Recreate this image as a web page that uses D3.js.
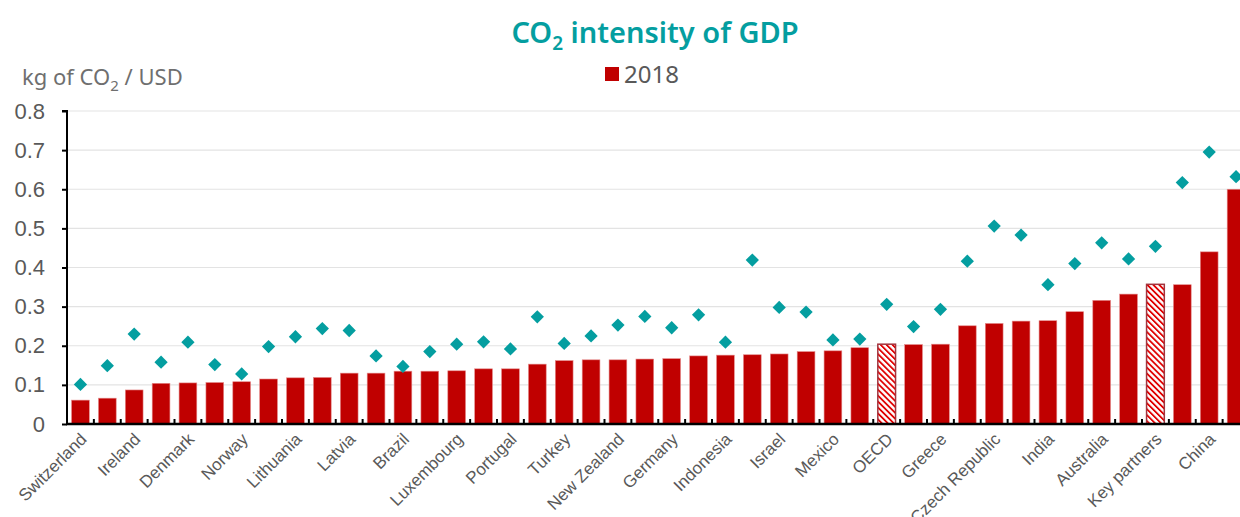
<!DOCTYPE html>
<html>
<head>
<meta charset="utf-8">
<script src="https://cdn.jsdelivr.net/npm/d3@7"></script>
<style>
  body { margin: 0; background: #fff; }
  svg { display: block; font-family: "Noto Sans", "Open Sans", sans-serif; }
</style>
</head>
<body>
<div id="chart"></div>
<script>
// only every other category is labelled in the source picture
const labels = [
  "Switzerland", "", "Ireland", "", "Denmark", "", "Norway", "", "Lithuania", "",
  "Latvia", "", "Brazil", "", "Luxembourg", "", "Portugal", "", "Turkey", "",
  "New Zealand", "", "Germany", "", "Indonesia", "", "Israel", "", "Mexico", "",
  "OECD", "", "Greece", "", "Czech Republic", "", "India", "", "Australia", "",
  "Key partners", "", "China", ""
];
// 2018 bars
const values2018 = [
  0.061, 0.066, 0.087, 0.104, 0.105, 0.106, 0.108, 0.115, 0.118, 0.119,
  0.130, 0.130, 0.135, 0.135, 0.136, 0.141, 0.141, 0.153, 0.162, 0.164,
  0.164, 0.166, 0.167, 0.174, 0.176, 0.177, 0.179, 0.185, 0.187, 0.195,
  0.204, 0.203, 0.204, 0.251, 0.257, 0.263, 0.264, 0.287, 0.316, 0.332,
  0.357, 0.356, 0.440, 0.600
];
// earlier-year diamonds
const valuesEarlier = [
  0.101, 0.149, 0.230, 0.158, 0.209, 0.152, 0.128, 0.198, 0.223, 0.244,
  0.239, 0.174, 0.147, 0.185, 0.204, 0.210, 0.192, 0.274, 0.206, 0.225,
  0.253, 0.275, 0.246, 0.279, 0.209, 0.419, 0.298, 0.286, 0.215, 0.217,
  0.306, 0.249, 0.293, 0.416, 0.506, 0.483, 0.356, 0.410, 0.463, 0.422,
  0.454, 0.617, 0.695, 0.632
];
const aggregates = ["OECD", "Key partners"];
const yTicks = [0, 0.1, 0.2, 0.3, 0.4, 0.5, 0.6, 0.7, 0.8];

const red = "#c00000";
const teal = "#049ea0";
const grey = "#595959";

const width = 1240;
const height = 517;
const marginLeft = 67;
const marginTop = 111;
const baseY = 424;

const idx = d3.range(values2018.length);

const x = d3.scaleBand()
  .domain(idx)
  .range([marginLeft, 1249.5])
  .paddingInner(0.34)
  .paddingOuter(0.17);

const y = d3.scaleLinear()
  .domain([0, 0.8])
  .range([baseY, marginTop]);

const svg = d3.select("#chart").append("svg")
  .attr("width", width)
  .attr("height", height);

const defs = svg.append("defs");
const pat = defs.append("pattern")
  .attr("id", "hatch")
  .attr("patternUnits", "userSpaceOnUse")
  .attr("width", 4.2)
  .attr("height", 4.2)
  .attr("patternTransform", "rotate(-45)");
pat.append("rect").attr("width", 4.2).attr("height", 4.2).attr("fill", "#fff");
pat.append("rect").attr("width", 1.8).attr("height", 4.2).attr("fill", "#e00000");

// gridlines
svg.append("g")
  .selectAll("line")
  .data(yTicks.slice(1))
  .join("line")
    .attr("x1", marginLeft)
    .attr("x2", width)
    .attr("y1", d => y(d))
    .attr("y2", d => y(d))
    .attr("stroke", "#e3e3e3")
    .attr("stroke-width", 1.2);

// bars
svg.append("g")
  .selectAll("rect")
  .data(idx)
  .join("rect")
    .attr("x", i => x(i))
    .attr("y", i => y(values2018[i]))
    .attr("width", x.bandwidth())
    .attr("height", i => y(0) - y(values2018[i]))
    .attr("fill", i => aggregates.includes(labels[i]) ? "url(#hatch)" : red)
    .attr("stroke", i => aggregates.includes(labels[i]) ? "#a3333d" : "#e48a8a")
    .attr("stroke-width", i => aggregates.includes(labels[i]) ? 1.5 : 0.6);

// diamonds
const diamond = d3.symbol().type(d3.symbolSquare).size(88);
svg.append("g")
  .selectAll("path")
  .data(idx)
  .join("path")
    .attr("d", diamond)
    .attr("transform", i => `translate(${x(i) + x.bandwidth() / 2},${y(valuesEarlier[i])}) rotate(45)`)
    .attr("fill", teal);

// y axis
const yAxis = svg.append("g")
  .attr("transform", `translate(${marginLeft},0)`)
  .call(d3.axisLeft(y).tickValues(yTicks).tickFormat(d => d === 0 ? "0" : d3.format(".1f")(d)).tickSize(5).tickPadding(17));
yAxis.select(".domain").attr("stroke", "#000").attr("stroke-width", 2).attr("d", `M-5,${marginTop}H0V${baseY}`);
yAxis.selectAll(".tick line").attr("stroke", "#000").attr("stroke-width", 2);
yAxis.selectAll(".tick text")
  .attr("fill", grey)
  .style("font-size", "22px");

// x axis: labels at centres, tick marks at band boundaries
const xAxis = svg.append("g")
  .attr("transform", `translate(0,${baseY})`)
  .call(d3.axisBottom(x).tickFormat(i => labels[i]).tickSize(0));
xAxis.select(".domain").remove();
xAxis.selectAll(".tick text")
  .attr("fill", grey)
  .style("font-size", "17px")
  .attr("text-anchor", "end")
  .attr("x", 0)
  .attr("y", 0)
  .attr("dy", "0.35em")
  .attr("transform", "translate(3,12) rotate(-45)");

const step = x.step();
svg.append("g")
  .selectAll("line")
  .data(idx.slice(1))
  .join("line")
    .attr("x1", i => x(i) - step * x.paddingInner() / 2)
    .attr("x2", i => x(i) - step * x.paddingInner() / 2)
    .attr("y1", baseY)
    .attr("y2", baseY - 5)
    .attr("stroke", "#000")
    .attr("stroke-width", 2);

svg.append("line")
  .attr("x1", marginLeft - 1)
  .attr("x2", width)
  .attr("y1", baseY)
  .attr("y2", baseY)
  .attr("stroke", "#000")
  .attr("stroke-width", 2.5);

// title
const title = svg.append("text")
  .attr("x", 655)
  .attr("y", 43)
  .attr("text-anchor", "middle")
  .attr("fill", teal)
  .style("font-size", "29px")
  .style("font-weight", 600);
title.append("tspan").text("CO");
title.append("tspan").text("2").attr("dy", 7).style("font-size", "19px");
title.append("tspan").text(" intensity of GDP").attr("dy", -7);

// y label
const ylab = svg.append("text")
  .attr("x", 22)
  .attr("y", 85)
  .attr("fill", "#6f6f6f")
  .style("font-size", "22px");
ylab.append("tspan").text("kg of CO");
ylab.append("tspan").text("2").attr("dy", 6).style("font-size", "15px");
ylab.append("tspan").text(" / USD").attr("dy", -6);

// legend
svg.append("rect")
  .attr("x", 605)
  .attr("y", 67)
  .attr("width", 14)
  .attr("height", 14)
  .attr("fill", red);
svg.append("text")
  .attr("x", 624)
  .attr("y", 83)
  .attr("fill", grey)
  .style("font-size", "24px")
  .text("2018");
</script>
</body>
</html>
